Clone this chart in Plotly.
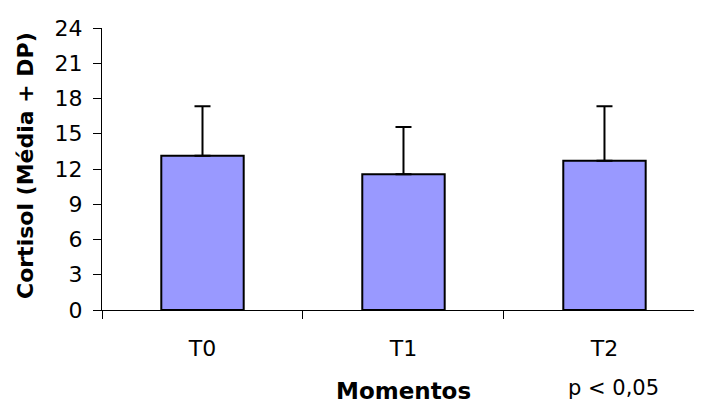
import plotly.graph_objects as go

categories = ["T0", "T1", "T2"]
means = [13.13, 11.55, 12.71]
sds = [4.22, 4.03, 4.64]
y_ticks = [0, 3, 6, 9, 12, 15, 18, 21, 24]

FONT = "DejaVu Sans, Liberation Sans, Arial, sans-serif"

fig = go.Figure()
fig.add_trace(go.Bar(
    x=categories, y=means,
    marker=dict(color="#9999FF", line=dict(color="black", width=2)),
    width=0.41,
    error_y=dict(type="data", symmetric=False, array=sds, arrayminus=[0] * len(sds),
                 color="black", thickness=2, width=8, visible=True),
))

fig.update_layout(
    width=702, height=405,
    margin=dict(l=94, r=0, t=20, b=103, pad=0),
    paper_bgcolor="white", plot_bgcolor="white",
    showlegend=False,
    font=dict(family=FONT, color="black", size=22),
    xaxis=dict(
        range=[-0.5, 2.525],
        showline=True, linecolor="black", linewidth=1,
        ticks="outside", tickson="boundaries", ticklen=8, tickcolor="black",
        tickfont=dict(size=22), showgrid=False, ticklabelstandoff=19,
    ),
    yaxis=dict(
        range=[0, 24], tickvals=y_ticks, showline=True, linecolor="black", linewidth=1,
        ticks="outside", ticklen=8, tickcolor="black", showgrid=False, zeroline=False,
        tickfont=dict(size=22), ticklabelstandoff=6,
    ),
    annotations=[
        dict(text="<b>Cortisol (Média + DP)</b>", textangle=-90, x=0, y=0.5,
             xref="paper", yref="paper", xanchor="center", yanchor="middle",
             xshift=-77, yshift=3, showarrow=False, font=dict(size=22)),
        dict(text="<b>Momentos</b>", x=1, y=0, xref="x", yref="paper",
             xanchor="center", yanchor="middle", yshift=-81, showarrow=False,
             font=dict(size=23)),
        dict(text="p &lt; 0,05", x=2, y=0, xref="x", yref="paper",
             xanchor="center", yanchor="middle", xshift=9, yshift=-78,
             showarrow=False, font=dict(size=21)),
    ],
)

fig.write_html("out.html")
